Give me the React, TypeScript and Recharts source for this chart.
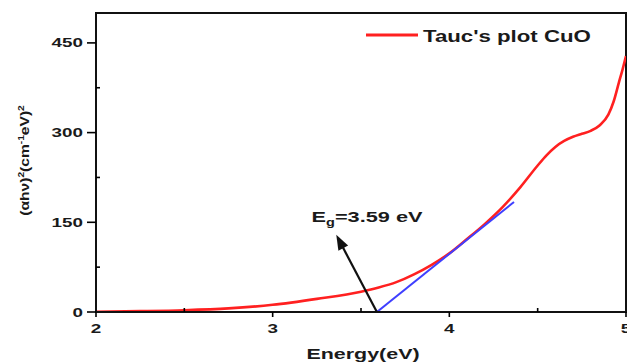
import React from 'react';
import {
  LineChart,
  Line,
  XAxis,
  YAxis,
  ReferenceLine,
  ReferenceArea,
  ReferenceDot,
  Legend,
} from 'recharts';

// ---- data ----
const energy = [
  2.0, 2.25, 2.5, 2.75, 3.0, 3.25, 3.5, 3.6, 3.7, 3.8, 3.9, 4.0, 4.1, 4.2, 4.3, 4.4,
  4.5, 4.55, 4.6, 4.65, 4.7, 4.75, 4.8, 4.85, 4.9, 4.93, 4.96, 4.98, 5.0,
];
const taucValues = [
  0.5, 1.5, 3, 6, 12, 22, 34, 41, 50, 63, 79, 98, 122, 147, 175, 208,
  245, 262, 276, 286, 293, 298, 303, 312, 330, 352, 384, 405, 428,
];
const fitEnergy = [3.59, 4.366];
const fitValues = [0, 184];
const xTicks = [2, 2.5, 3, 3.5, 4, 4.5, 5];
const yTicks = [0, 75, 150, 225, 300, 375, 450];
const xDomain = [2, 5];
const yDomain = [0, 500];
const bandGap = 3.59;
const arrowTail = { E: 3.59, v: 0 };
const arrowHead = { E: 3.36, v: 129 };
const labelAnchor = { E: 3.22, v: 150 };
const seriesName = "Tauc's plot CuO";
const xTitle = 'Energy(eV)';

const data = energy.map((E, i) => ({ E, v: taucValues[i] }));
const fitData = fitEnergy.map((E, i) => ({ E, v: fitValues[i] }));

const FONT = "Arial, 'Liberation Sans', sans-serif";
const TEXT = '#1a1a1a';

const XTick = (props: any) => {
  const { x, y, payload } = props;
  const major = Number.isInteger(payload.value);
  return (
    <g>
      <line x1={x} x2={x} y1={y} y2={major ? y + 5 : y - 4} stroke="#000" strokeWidth={1.6} />
      {major && (
        <text
          transform={`translate(${x},${y + 21}) scale(1.45,1)`}
          textAnchor="middle"
          fontSize={13}
          fontWeight="bold"
          fontFamily={FONT}
          fill={TEXT}
        >
          {payload.value}
        </text>
      )}
    </g>
  );
};

const YTick = (props: any) => {
  const { x, y, payload } = props;
  const major = yTicks.indexOf(payload.value) % 2 === 0;
  return (
    <g>
      <line x1={x} x2={major ? x - 9 : x + 4} y1={y} y2={y} stroke="#000" strokeWidth={1.6} />
      {major && (
        <text
          transform={`translate(${x - 13},${y + 4.5}) scale(1.45,1)`}
          textAnchor="end"
          fontSize={13}
          fontWeight="bold"
          fontFamily={FONT}
          fill={TEXT}
        >
          {payload.value}
        </text>
      )}
    </g>
  );
};

const YTitle = (props: any) => {
  const vb = props.viewBox || { x: 0, y: 13, width: 96, height: 299 };
  const cx = vb.x + 29;
  const cy = vb.y + vb.height / 2 - 2;
  return (
    <text
      transform={`translate(${cx},${cy}) rotate(-90) scale(1.2,1)`}
      textAnchor="middle"
      fontSize={13}
      fontWeight="bold"
      fontFamily={FONT}
      fill={TEXT}
    >
      <tspan>(αhν)</tspan>
      <tspan fontSize={8.5} dy={-5}>2</tspan>
      <tspan dy={5}>(cm</tspan>
      <tspan fontSize={8.5} dy={-5}>-1</tspan>
      <tspan dy={5}>eV)</tspan>
      <tspan fontSize={8.5} dy={-5}>2</tspan>
    </text>
  );
};

const XTitle = (props: any) => {
  const vb = props.viewBox || { x: 96, y: 312, width: 530, height: 50 };
  const cx = vb.x + vb.width / 2 + 2;
  return (
    <text
      transform={`translate(${cx},${vb.y + 47}) scale(1.43,1)`}
      textAnchor="middle"
      fontSize={15}
      fontWeight="bold"
      fontFamily={FONT}
      fill={TEXT}
    >
      {xTitle}
    </text>
  );
};

const Arrow = (p: any) => {
  const { x1, y1, x2, y2 } = p;
  if ([x1, y1, x2, y2].some((v) => typeof v !== 'number' || isNaN(v))) return null;
  const dx = x2 - x1;
  const dy = y2 - y1;
  const len = Math.hypot(dx, dy);
  const ux = dx / len;
  const uy = dy / len;
  const hl = 15;
  const hw = 5.5;
  const bx = x2 - ux * hl;
  const by = y2 - uy * hl;
  const px = -uy;
  const py = ux;
  return (
    <g>
      <line x1={x1} y1={y1} x2={bx + ux * 2} y2={by + uy * 2} stroke="#111" strokeWidth={2.2} />
      <polygon
        points={`${x2},${y2} ${bx + px * hw},${by + py * hw} ${bx - px * hw},${by - py * hw}`}
        fill="#111"
      />
    </g>
  );
};

const GapLabel = (props: any) => {
  const vb = props.viewBox;
  if (!vb) return null;
  const x = vb.x + (vb.width || 0) / 2;
  const y = vb.y + (vb.height || 0) / 2;
  return (
    <text
      transform={`translate(${x},${y}) scale(1.45,1)`}
      fontSize={15}
      fontWeight="bold"
      fontFamily={FONT}
      fill={TEXT}
    >
      <tspan>E</tspan>
      <tspan fontSize={10} dy={4}>g</tspan>
      <tspan dy={-4}>{`=${bandGap} eV`}</tspan>
    </text>
  );
};

const LegendContent = () => (
  <svg width={250} height={26} style={{ display: 'block' }}>
    <line x1={0} x2={52} y1={12} y2={12} stroke="#ff2020" strokeWidth={3} />
    <text
      transform="translate(57,19.3) scale(1.39,1)"
      fontSize={16}
      fontWeight="bold"
      fontFamily={FONT}
      fill={TEXT}
    >
      {seriesName}
    </text>
  </svg>
);

export default function App() {
  return (
    <div style={{ position: 'absolute', left: 0, top: 0, width: 627, height: 362, background: '#fff' }}>
      <LineChart
        width={627}
        height={362}
        data={data}
        margin={{ top: 13, right: 1, bottom: 0, left: 0 }}
      >
        <ReferenceArea
          x1={xDomain[0]}
          x2={xDomain[1]}
          y1={yDomain[0]}
          y2={yDomain[1]}
          fill="none"
          stroke="#111"
          strokeWidth={2}
          ifOverflow="visible"
        />
        <XAxis
          dataKey="E"
          type="number"
          domain={xDomain}
          ticks={xTicks}
          allowDataOverflow
          height={50}
          tickSize={0}
          tickMargin={0}
          tickLine={false}
          tick={<XTick />}
          interval={0}
          axisLine={{ stroke: '#111', strokeWidth: 2 }}
          label={{ content: <XTitle /> } as any}
        />
        <YAxis
          type="number"
          domain={yDomain}
          ticks={yTicks}
          allowDataOverflow
          width={96}
          tickSize={0}
          tickMargin={0}
          tickLine={false}
          tick={<YTick />}
          interval={0}
          axisLine={{ stroke: '#111', strokeWidth: 2 }}
          label={{ content: <YTitle /> } as any}
        />
        <Legend
          layout="horizontal"
          verticalAlign="middle"
          align="center"
          content={<LegendContent />}
          wrapperStyle={{ left: 366, top: 23, width: 250 }}
        />
        <Line
          name={seriesName}
          dataKey="v"
          type="monotone"
          stroke="#ff2020"
          strokeWidth={2.6}
          dot={false}
          isAnimationActive={false}
        />
        <Line
          data={fitData}
          dataKey="v"
          type="linear"
          stroke="#3f3fff"
          strokeWidth={2}
          dot={false}
          legendType="none"
          isAnimationActive={false}
        />
        <ReferenceLine
          segment={[
            { x: arrowTail.E, y: arrowTail.v },
            { x: arrowHead.E, y: arrowHead.v },
          ]}
          shape={Arrow}
          ifOverflow="visible"
        />
        <ReferenceDot
          x={labelAnchor.E}
          y={labelAnchor.v}
          r={0}
          fill="none"
          stroke="none"
          ifOverflow="visible"
          label={{ content: <GapLabel /> } as any}
        />
      </LineChart>
    </div>
  );
}
